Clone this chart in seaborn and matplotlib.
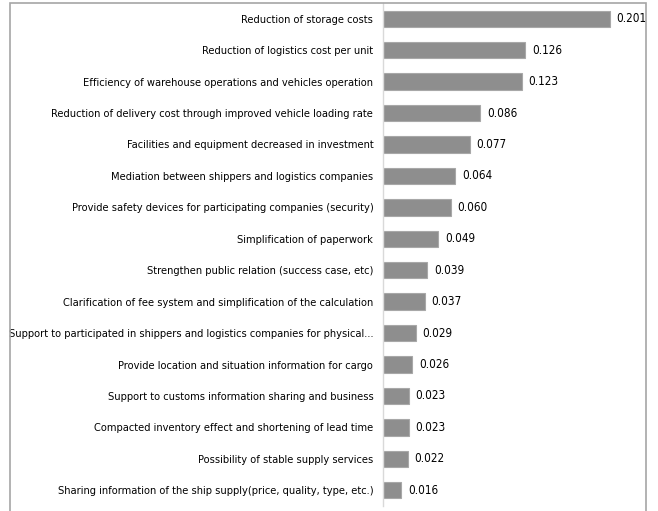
import matplotlib
matplotlib.use("Agg")
import matplotlib.pyplot as plt
import seaborn as sns
import pandas as pd
from matplotlib.patches import Rectangle

labels = [
    "Reduction of storage costs",
    "Reduction of logistics cost per unit",
    "Efficiency of warehouse operations and vehicles operation",
    "Reduction of delivery cost through improved vehicle loading rate",
    "Facilities and equipment decreased in investment",
    "Mediation between shippers and logistics companies",
    "Provide safety devices for participating companies (security)",
    "Simplification of paperwork",
    "Strengthen public relation (success case, etc)",
    "Clarification of fee system and simplification of the calculation",
    "Support to participated in shippers and logistics companies for physical...",
    "Provide location and situation information for cargo",
    "Support to customs information sharing and business",
    "Compacted inventory effect and shortening of lead time",
    "Possibility of stable supply services",
    "Sharing information of the ship supply(price, quality, type, etc.)",
]
values = [0.201, 0.126, 0.123, 0.086, 0.077, 0.064, 0.060, 0.049,
          0.039, 0.037, 0.029, 0.026, 0.023, 0.023, 0.022, 0.016]

df = pd.DataFrame({"label": labels, "value": values})

sns.set_theme(style="white")
plt.rcParams["font.family"] = ["Liberation Sans Narrow", "DejaVu Sans"]
plt.rcParams["font.stretch"] = "condensed"

W, H = 658, 511
fig = plt.figure(figsize=(W / 100, H / 100), dpi=100)
ax = fig.add_axes([383 / W, 1 - 506 / H, (640 - 383) / W, (506 - 3) / H])

sns.barplot(data=df, x="value", y="label", color="#8e8e8e", width=0.52,
            edgecolor="#a8a8a8", linewidth=0.8, ax=ax, saturation=1)

ax.set_xlim(0, 0.2276)
ax.set_ylim(15.5, -0.5)
ax.set_xlabel("")
ax.set_ylabel("")
ax.set_xticks([])
for s in ["top", "right", "bottom"]:
    ax.spines[s].set_visible(False)
ax.spines["left"].set_color("#d9d9d9")
ax.spines["left"].set_linewidth(1)
ax.tick_params(axis="y", length=0, pad=7, labelsize=7.9, labelcolor="#000000")

for i, v in enumerate(values):
    ax.text(v + 0.006, i, f"{v:.3f}", va="center", ha="left",
            fontsize=8.4, color="#000000")

# outer border of the chart area
fig.patches.append(Rectangle((10 / W, -0.05), (646 - 10) / W, 1.05 - 3 / H,
                             transform=fig.transFigure, fill=False,
                             edgecolor="#a6a6a6", linewidth=1.2))

fig.savefig("out.png", dpi=100)
